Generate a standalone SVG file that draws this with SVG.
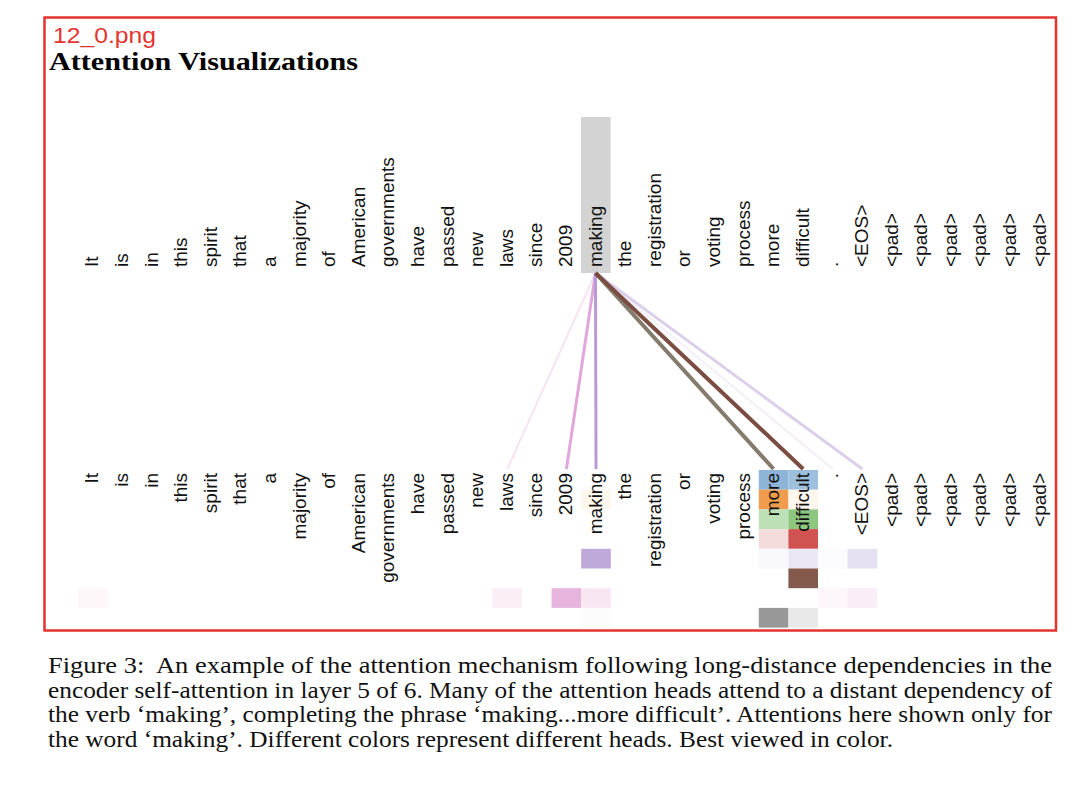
<svg xmlns="http://www.w3.org/2000/svg" width="1080" height="792" viewBox="0 0 1080 792">
<style>
.w{font-family:"Liberation Sans",Arial,sans-serif;font-size:19px;fill:#111}
.t{text-anchor:start}
.b{text-anchor:end}
.cap{font-family:"Liberation Serif","Times New Roman",serif;font-size:23.5px;fill:#111}
.ln{fill:none;stroke-linecap:butt}
</style>
<rect width="1080" height="792" fill="#ffffff"/>
<g id="frame"><rect x="44.5" y="17.5" width="1011.5" height="613" fill="none" stroke="#e3342f" stroke-width="2.5"/></g>
<g id="label"><text x="53" y="43" font-family="Liberation Sans,Arial,sans-serif" font-size="21.5" fill="#e3342f" textLength="103" lengthAdjust="spacingAndGlyphs">12_0.png</text></g>
<g id="title"><text x="49" y="69.5" font-family="Liberation Serif,Times New Roman,serif" font-size="25" font-weight="bold" fill="#000" textLength="309" lengthAdjust="spacingAndGlyphs">Attention Visualizations</text></g>

<g id="highlight"><rect x="581" y="117" width="29.6" height="156" fill="#d3d3d3"/></g>

<g id="cells">
<rect x="758.8" y="470" width="29.6" height="19.7" fill="#8eb4d8"/>
<rect x="788.4" y="470" width="29.6" height="19.7" fill="#9dc0de"/>
<rect x="581.2" y="489.7" width="29.6" height="19.7" fill="#fef7ee"/>
<rect x="758.8" y="489.7" width="29.6" height="19.7" fill="#f19c4c"/>
<rect x="788.4" y="489.7" width="29.6" height="19.7" fill="#fff6ee"/>
<rect x="758.8" y="509.4" width="29.6" height="19.7" fill="#bee0b6"/>
<rect x="788.4" y="509.4" width="29.6" height="19.7" fill="#8dc67f"/>
<rect x="758.8" y="529.1" width="29.6" height="19.7" fill="#f5dcdc"/>
<rect x="788.4" y="529.1" width="29.6" height="19.7" fill="#d05251"/>
<rect x="581.2" y="548.8" width="29.6" height="19.7" fill="#bea9d8"/>
<rect x="758.8" y="548.8" width="29.6" height="19.7" fill="#f9f8fc"/>
<rect x="788.4" y="548.8" width="29.6" height="19.7" fill="#ebe7f5"/>
<rect x="818" y="548.8" width="29.6" height="19.7" fill="#fcfbfe"/>
<rect x="847.6" y="548.8" width="29.6" height="19.7" fill="#e6e0f2"/>
<rect x="788.4" y="568.5" width="29.6" height="19.7" fill="#845a4d"/>
<rect x="78" y="588.2" width="29.6" height="19.7" fill="#fdf7fa"/>
<rect x="492.4" y="588.2" width="29.6" height="19.7" fill="#fbeff7"/>
<rect x="551.6" y="588.2" width="29.6" height="19.7" fill="#e6b4dd"/>
<rect x="581.2" y="588.2" width="29.6" height="19.7" fill="#f8e6f3"/>
<rect x="818" y="588.2" width="29.6" height="19.7" fill="#fdf6fb"/>
<rect x="847.6" y="588.2" width="29.6" height="19.7" fill="#f9eef8"/>
<rect x="581.2" y="607.9" width="29.6" height="19.7" fill="#fcfcfc"/>
<rect x="758.8" y="607.9" width="29.6" height="19.7" fill="#989898"/>
<rect x="788.4" y="607.9" width="29.6" height="19.7" fill="#e9e9e9"/>
</g>

<g id="connectors">
<line class="ln" x1="595.5" y1="273" x2="507.2" y2="469" stroke="#f7e4f1" stroke-width="2"/>
<line class="ln" x1="595.5" y1="273" x2="832.8" y2="469" stroke="#f4eef7" stroke-width="2"/>
<line class="ln" x1="595.5" y1="273" x2="862.4" y2="469" stroke="#dccfe9" stroke-width="3"/>
<line class="ln" x1="595.5" y1="273" x2="566.4" y2="469" stroke="#e2a6da" stroke-width="3"/>
<line class="ln" x1="595.5" y1="273" x2="596" y2="469" stroke="#b79bd3" stroke-width="3"/>
<line class="ln" x1="595.5" y1="273" x2="773.6" y2="469" stroke="#847b6c" stroke-width="4"/>
<line class="ln" x1="595.5" y1="273" x2="803.2" y2="469" stroke="#7a4c42" stroke-width="4"/>
</g>

<g id="top-words" class="w t">
<text x="98.3" y="267" transform="rotate(-90 98.3 267)">It</text>
<text x="127.9" y="267" transform="rotate(-90 127.9 267)">is</text>
<text x="157.5" y="267" transform="rotate(-90 157.5 267)">in</text>
<text x="187.1" y="267" transform="rotate(-90 187.1 267)">this</text>
<text x="216.7" y="267" transform="rotate(-90 216.7 267)">spirit</text>
<text x="246.3" y="267" transform="rotate(-90 246.3 267)">that</text>
<text x="275.9" y="267" transform="rotate(-90 275.9 267)">a</text>
<text x="305.5" y="267" transform="rotate(-90 305.5 267)">majority</text>
<text x="335.1" y="267" transform="rotate(-90 335.1 267)">of</text>
<text x="364.7" y="267" transform="rotate(-90 364.7 267)">American</text>
<text x="394.3" y="267" transform="rotate(-90 394.3 267)">governments</text>
<text x="423.9" y="267" transform="rotate(-90 423.9 267)">have</text>
<text x="453.5" y="267" transform="rotate(-90 453.5 267)">passed</text>
<text x="483.1" y="267" transform="rotate(-90 483.1 267)">new</text>
<text x="512.7" y="267" transform="rotate(-90 512.7 267)">laws</text>
<text x="542.3" y="267" transform="rotate(-90 542.3 267)">since</text>
<text x="571.9" y="267" transform="rotate(-90 571.9 267)">2009</text>
<text x="601.5" y="267" transform="rotate(-90 601.5 267)">making</text>
<text x="631.1" y="267" transform="rotate(-90 631.1 267)">the</text>
<text x="660.7" y="267" transform="rotate(-90 660.7 267)">registration</text>
<text x="690.3" y="267" transform="rotate(-90 690.3 267)">or</text>
<text x="719.9" y="267" transform="rotate(-90 719.9 267)">voting</text>
<text x="749.5" y="267" transform="rotate(-90 749.5 267)">process</text>
<text x="779.1" y="267" transform="rotate(-90 779.1 267)">more</text>
<text x="808.7" y="267" transform="rotate(-90 808.7 267)">difficult</text>
<text x="838.3" y="267" transform="rotate(-90 838.3 267)">.</text>
<text x="867.9" y="267" transform="rotate(-90 867.9 267)">&lt;EOS&gt;</text>
<text x="897.5" y="267" transform="rotate(-90 897.5 267)">&lt;pad&gt;</text>
<text x="927.1" y="267" transform="rotate(-90 927.1 267)">&lt;pad&gt;</text>
<text x="956.7" y="267" transform="rotate(-90 956.7 267)">&lt;pad&gt;</text>
<text x="986.3" y="267" transform="rotate(-90 986.3 267)">&lt;pad&gt;</text>
<text x="1015.9" y="267" transform="rotate(-90 1015.9 267)">&lt;pad&gt;</text>
<text x="1045.5" y="267" transform="rotate(-90 1045.5 267)">&lt;pad&gt;</text>
</g>

<g id="bottom-words" class="w b">
<text x="98.3" y="473" transform="rotate(-90 98.3 473)">It</text>
<text x="127.9" y="473" transform="rotate(-90 127.9 473)">is</text>
<text x="157.5" y="473" transform="rotate(-90 157.5 473)">in</text>
<text x="187.1" y="473" transform="rotate(-90 187.1 473)">this</text>
<text x="216.7" y="473" transform="rotate(-90 216.7 473)">spirit</text>
<text x="246.3" y="473" transform="rotate(-90 246.3 473)">that</text>
<text x="275.9" y="473" transform="rotate(-90 275.9 473)">a</text>
<text x="305.5" y="473" transform="rotate(-90 305.5 473)">majority</text>
<text x="335.1" y="473" transform="rotate(-90 335.1 473)">of</text>
<text x="364.7" y="473" transform="rotate(-90 364.7 473)">American</text>
<text x="394.3" y="473" transform="rotate(-90 394.3 473)">governments</text>
<text x="423.9" y="473" transform="rotate(-90 423.9 473)">have</text>
<text x="453.5" y="473" transform="rotate(-90 453.5 473)">passed</text>
<text x="483.1" y="473" transform="rotate(-90 483.1 473)">new</text>
<text x="512.7" y="473" transform="rotate(-90 512.7 473)">laws</text>
<text x="542.3" y="473" transform="rotate(-90 542.3 473)">since</text>
<text x="571.9" y="473" transform="rotate(-90 571.9 473)">2009</text>
<text x="601.5" y="473" transform="rotate(-90 601.5 473)">making</text>
<text x="631.1" y="473" transform="rotate(-90 631.1 473)">the</text>
<text x="660.7" y="473" transform="rotate(-90 660.7 473)">registration</text>
<text x="690.3" y="473" transform="rotate(-90 690.3 473)">or</text>
<text x="719.9" y="473" transform="rotate(-90 719.9 473)">voting</text>
<text x="749.5" y="473" transform="rotate(-90 749.5 473)">process</text>
<text x="779.1" y="473" transform="rotate(-90 779.1 473)">more</text>
<text x="808.7" y="473" transform="rotate(-90 808.7 473)">difficult</text>
<text x="838.3" y="473" transform="rotate(-90 838.3 473)">.</text>
<text x="867.9" y="473" transform="rotate(-90 867.9 473)">&lt;EOS&gt;</text>
<text x="897.5" y="473" transform="rotate(-90 897.5 473)">&lt;pad&gt;</text>
<text x="927.1" y="473" transform="rotate(-90 927.1 473)">&lt;pad&gt;</text>
<text x="956.7" y="473" transform="rotate(-90 956.7 473)">&lt;pad&gt;</text>
<text x="986.3" y="473" transform="rotate(-90 986.3 473)">&lt;pad&gt;</text>
<text x="1015.9" y="473" transform="rotate(-90 1015.9 473)">&lt;pad&gt;</text>
<text x="1045.5" y="473" transform="rotate(-90 1045.5 473)">&lt;pad&gt;</text>
</g>

<g id="caption" class="cap">
<text x="48" y="673" xml:space="preserve" textLength="1004" lengthAdjust="spacingAndGlyphs">Figure 3:  An example of the attention mechanism following long-distance dependencies in the</text>
<text x="48" y="697.5" textLength="1004" lengthAdjust="spacingAndGlyphs">encoder self-attention in layer 5 of 6. Many of the attention heads attend to a distant dependency of</text>
<text x="48" y="722" textLength="1004" lengthAdjust="spacingAndGlyphs">the verb ‘making’, completing the phrase ‘making...more difficult’. Attentions here shown only for</text>
<text x="48" y="746.5" textLength="845" lengthAdjust="spacingAndGlyphs">the word ‘making’. Different colors represent different heads. Best viewed in color.</text>
</g>
</svg>
